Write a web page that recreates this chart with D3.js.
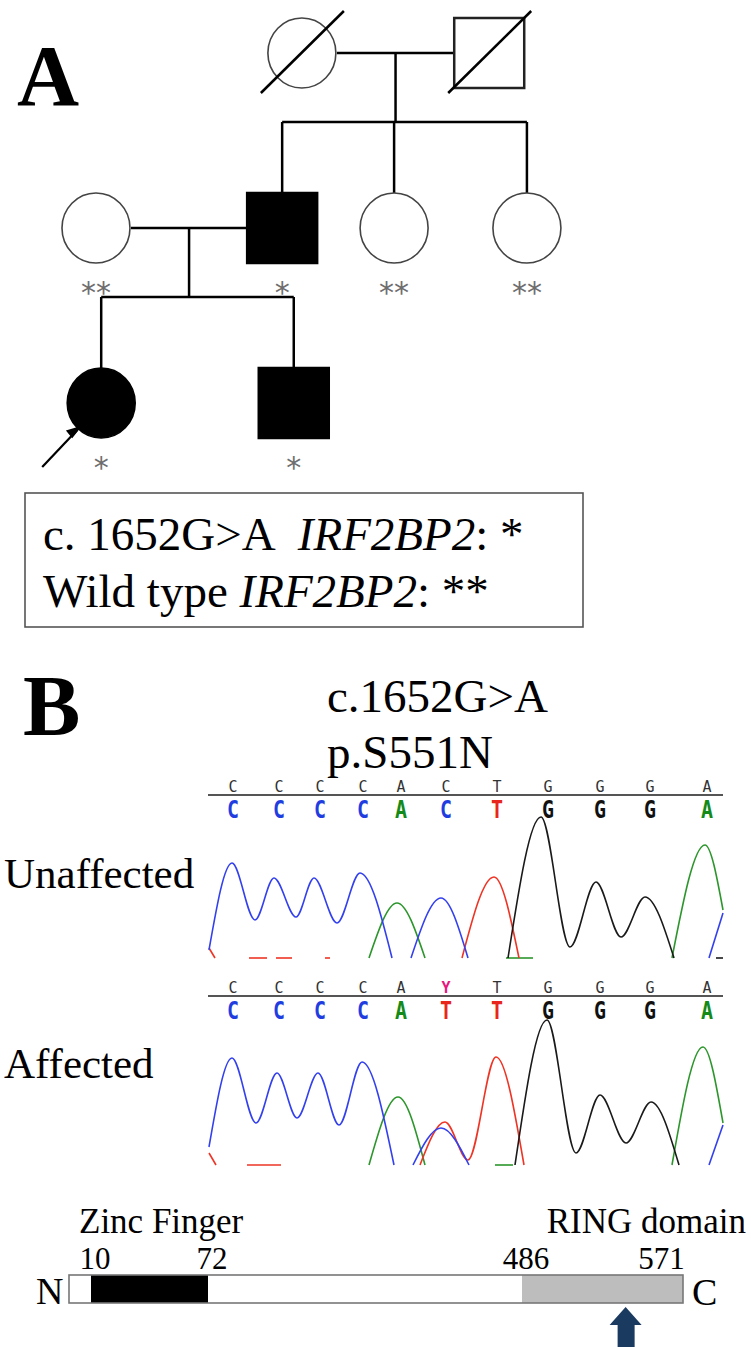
<!DOCTYPE html>
<html>
<head>
<meta charset="utf-8">
<script src="https://cdn.jsdelivr.net/npm/d3@7"></script>
<style>
  html, body { margin: 0; padding: 0; background: #fff; }
  svg { display: block; }
  text { font-family: "Liberation Serif", "Times New Roman", serif; }
  text.mono { font-family: "DejaVu Sans Mono", monospace; }
  text.geno { font-family: "DejaVu Sans", sans-serif; }
</style>
</head>
<body>
<svg id="chart" width="751" height="1347"></svg>
<script>

/****** Data ******/

// Pedigree: position in pedigree units (0-100), generation I-III
var pedIds      = ["I-1", "I-2", "II-1", "II-2", "II-3", "II-4", "III-1", "III-2"];
var pedGen      = [1, 1, 2, 2, 2, 2, 3, 3];
var pedPos      = [48.6, 80.9, 13.1, 45.2, 64.5, 87.4, 14.0, 47.2];
var pedSex      = ["F", "M", "F", "M", "F", "F", "F", "M"];
var pedAffected = [false, false, false, true, false, false, true, true];
var pedDeceased = [true, true, false, false, false, false, false, false];
var pedGeno     = ["", "", "**", "*", "**", "**", "*", "*"];
var proband     = "III-1";
var couples     = [["I-1", "I-2"], ["II-1", "II-2"]];
var offspring   = [["II-2", "II-3", "II-4"], ["III-1", "III-2"]];

// Sequencing: base calls and their scan positions
var basePos        = [24, 70, 111, 154, 192, 237, 288, 339, 391, 441, 498];
var refUnaffected  = ["C", "C", "C", "C", "A", "C", "T", "G", "G", "G", "A"];
var callUnaffected = ["C", "C", "C", "C", "A", "C", "T", "G", "G", "G", "A"];
var refAffected    = ["C", "C", "C", "C", "A", "Y", "T", "G", "G", "G", "A"];
var callAffected   = ["C", "C", "C", "C", "A", "T", "T", "G", "G", "G", "A"];

// Trace readings [scan, signal], one list per drawn stretch
var unaffectedC = [
  [[0, 8], [23, 95], [46, 38], [65, 80], [87, 41], [105, 80], [128, 35], [151, 85], [183, 0]],
  [[202, 0], [232, 60], [259, 0]],
  [[500, 0], [514, 45]]
];
var unaffectedA = [
  [[160, 0], [188, 55], [216, 0]],
  [[297, 0], [324, 0]],
  [[463, 0], [496, 113], [514, 48]]
];
var unaffectedT = [
  [[0, 10], [6, 0]],
  [[40, 0], [58, 0]], [[67, 0], [83, 0]], [[116, 0], [121, 0]],
  [[253, 0], [285, 81], [310, 0]]
];
var unaffectedG = [
  [[299, 0], [332, 141], [361, 11], [387, 76], [412, 21], [436, 61], [465, 0]],
  [[507, 0], [514, 0]]
];

var affectedC = [
  [[0, 18], [23, 107], [47, 42], [68, 92], [88, 47], [109, 92], [130, 40], [153, 103], [185, 0]],
  [[204, 0], [232, 37], [260, 0]],
  [[500, 0], [514, 40]]
];
var affectedA = [
  [[160, 0], [189, 68], [216, 0]],
  [[286, 0], [304, 0]],
  [[463, 0], [494, 118], [514, 42]]
];
var affectedT = [
  [[0, 12], [7, 0]],
  [[38, 0], [72, 0]],
  [[211, 0], [236, 43], [259, 5], [287, 108], [315, 0]]
];
var affectedG = [
  [[306, 0], [338, 145], [367, 12], [391, 70], [417, 22], [442, 63], [470, 0]]
];

// Protein
var proteinLength = 587;
var domainNames   = ["Zinc Finger", "RING domain"];
var domainStart   = [10, 486];
var domainEnd     = [72, 571];
var mutationSite  = 551;

/****** Styles ******/

var baseColor  = {C: "#1f3de0", A: "#148a18", T: "#e8261c", G: "#111111", Y: "#e8167e"};
var traceColor = {C: "#3340ee", A: "#2c962c", T: "#ee3424", G: "#1a1a1a"};

var svg = d3.select("#chart");
svg.append("rect").attr("width", 751).attr("height", 1347).attr("fill", "#fff");

/****** Panel A: pedigree ******/

var people = pedIds.map(function (id, i) {
  return {id: id, gen: pedGen[i], pos: pedPos[i], sex: pedSex[i],
          affected: pedAffected[i], deceased: pedDeceased[i], geno: pedGeno[i]};
});
var byId = {};
people.forEach(function (p) { byId[p.id] = p; });

var pedX = d3.scaleLinear().domain([0, 100]).range([20, 600]);
var pedY = d3.scalePoint().domain([1, 2, 3]).range([53, 403]);
var sym = 70, half = sym / 2, sibGap = 71;

var ped = svg.append("g").attr("class", "pedigree");

svg.append("text").attr("x", 17).attr("y", 105)
   .attr("font-size", 86).attr("font-weight", "bold").text("A");

// marriage, descent and sibship lines
couples.forEach(function (c, i) {
  var a = byId[c[0]], b = byId[c[1]];
  var xa = pedX(a.pos), xb = pedX(b.pos), y = pedY(a.gen);
  var left = Math.min(xa, xb), right = Math.max(xa, xb);
  ped.append("line").attr("x1", left + half).attr("x2", right - half)
     .attr("y1", y).attr("y2", y).attr("stroke", "#000").attr("stroke-width", 2.5);

  var kids = offspring[i].map(function (k) { return byId[k]; });
  var mid = (left + right) / 2;
  var sibY = pedY(kids[0].gen) - half - sibGap;
  ped.append("line").attr("x1", mid).attr("x2", mid)
     .attr("y1", y).attr("y2", sibY).attr("stroke", "#000").attr("stroke-width", 2.5);
  var kx = kids.map(function (k) { return pedX(k.pos); });
  ped.append("line").attr("x1", d3.min(kx)).attr("x2", d3.max(kx))
     .attr("y1", sibY).attr("y2", sibY).attr("stroke", "#000").attr("stroke-width", 2.5);
  kids.forEach(function (k) {
    ped.append("line").attr("x1", pedX(k.pos)).attr("x2", pedX(k.pos))
       .attr("y1", sibY).attr("y2", pedY(k.gen) - half)
       .attr("stroke", "#000").attr("stroke-width", 2.5);
  });
});

// symbols
people.forEach(function (p) {
  var cx = pedX(p.pos), cy = pedY(p.gen);
  if (p.sex === "M") {
    ped.append("rect").attr("x", cx - half).attr("y", cy - half)
       .attr("width", sym).attr("height", sym)
       .attr("fill", p.affected ? "#000" : "#fff")
       .attr("stroke", p.affected ? "#000" : "#222").attr("stroke-width", 2.5);
  } else {
    ped.append("ellipse").attr("cx", cx).attr("cy", cy).attr("rx", half - 1).attr("ry", half)
       .attr("fill", p.affected ? "#000" : "#fff")
       .attr("stroke", p.affected ? "#000" : "#444").attr("stroke-width", 1.6);
  }
  if (p.deceased) {
    ped.append("line").attr("x1", cx - 41).attr("y1", cy + 40)
       .attr("x2", cx + 42).attr("y2", cy - 42)
       .attr("stroke", "#000").attr("stroke-width", 2.5);
  }
  if (p.geno) {
    ped.append("text").attr("class", "geno").attr("x", cx).attr("y", cy + 75)
       .attr("text-anchor", "middle").attr("font-size", 30)
       .attr("fill", "#6e6e6e")
       .text(p.geno);
  }
  if (p.id === proband) {
    ped.append("line").attr("x1", cx - 59).attr("y1", cy + 64)
       .attr("x2", cx - 24).attr("y2", cy + 27)
       .attr("stroke", "#000").attr("stroke-width", 2.2);
    ped.append("path")
       .attr("d", "M" + (cx - 21) + "," + (cy + 24) + " l-13,4 l5,6 z")
       .attr("fill", "#000").attr("stroke", "#000").attr("stroke-width", 1.5);
  }
});

// genotype legend
var legend = svg.append("g").attr("class", "legend");
legend.append("rect").attr("x", 25).attr("y", 493).attr("width", 558).attr("height", 134)
      .attr("fill", "none").attr("stroke", "#555").attr("stroke-width", 1.6);

var l1 = legend.append("text").attr("x", 43).attr("y", 550).attr("font-size", 47);
l1.append("tspan").text("c. 1652G>A");
l1.append("tspan").attr("dx", 22).attr("font-style", "italic").text("IRF2BP2");
l1.append("tspan").text(": *");

var l2 = legend.append("text").attr("x", 43).attr("y", 607).attr("font-size", 47);
l2.append("tspan").text("Wild type ");
l2.append("tspan").attr("font-style", "italic").text("IRF2BP2");
l2.append("tspan").text(": **");

/****** Panel B: chromatograms ******/

svg.append("text").attr("x", 23).attr("y", 735)
   .attr("font-size", 86).attr("font-weight", "bold").text("B");

svg.append("text").attr("x", 327).attr("y", 712).attr("font-size", 47).text("c.1652G>A");
svg.append("text").attr("x", 327).attr("y", 768).attr("font-size", 47).text("p.S551N");

var scanX = d3.scaleLinear().domain([0, 514]).range([209, 723]);

var panels = [
  {label: "Unaffected", labelY: 888, lineY: 795, baseline: 958,
   ref: refUnaffected, call: callUnaffected,
   traces: {C: unaffectedC, A: unaffectedA, T: unaffectedT, G: unaffectedG}},
  {label: "Affected", labelY: 1078, lineY: 996, baseline: 1165,
   ref: refAffected, call: callAffected,
   traces: {C: affectedC, A: affectedA, T: affectedT, G: affectedG}}
];

panels.forEach(function (pn) {
  var g = svg.append("g").attr("class", "trace-panel");
  var sig = d3.scaleLinear().domain([0, 150]).range([pn.baseline, pn.baseline - 150]);

  g.append("text").attr("x", 4).attr("y", pn.labelY).attr("font-size", 43).text(pn.label);

  g.append("line").attr("x1", scanX(0) - 1).attr("x2", scanX(514))
   .attr("y1", pn.lineY).attr("y2", pn.lineY)
   .attr("stroke", "#555").attr("stroke-width", 2.2);

  basePos.forEach(function (b, i) {
    g.append("text").attr("class", "mono").attr("x", scanX(b)).attr("y", pn.lineY - 3)
     .attr("text-anchor", "middle")
     .attr("font-size", 15).attr("fill", pn.ref[i] === "Y" ? baseColor.Y : "#333")
     .attr("font-weight", pn.ref[i] === "Y" ? "bold" : "normal")
     .text(pn.ref[i]);
    g.append("text").attr("class", "mono")
     .attr("transform", "translate(" + scanX(b) + "," + (pn.lineY + 23) + ") scale(0.8,1)")
     .attr("text-anchor", "middle")
     .attr("font-weight", "bold").attr("font-size", 25)
     .attr("fill", baseColor[pn.call[i]])
     .text(pn.call[i]);
  });

  var line = d3.line()
    .x(function (d) { return scanX(d[0]); })
    .y(function (d) { return sig(d[1]); })
    .curve(d3.curveMonotoneX);

  ["A", "T", "C", "G"].forEach(function (base) {
    pn.traces[base].forEach(function (seg) {
      g.append("path").attr("d", line(seg))
       .attr("fill", "none").attr("stroke", traceColor[base])
       .attr("stroke-width", 1.6).attr("stroke-linejoin", "round");
    });
  });
});

/****** Protein schematic ******/

var protX = d3.scaleLinear()
  .domain([1, domainStart[0], domainEnd[0], domainStart[1], proteinLength])
  .range([69, 91, 208, 522, 683]);
var barTop = 1275, barH = 28;
var prot = svg.append("g").attr("class", "protein");

prot.append("rect").attr("x", protX(1)).attr("y", barTop)
    .attr("width", protX(proteinLength) - protX(1)).attr("height", barH)
    .attr("fill", "#fff");
prot.append("rect").attr("x", protX(domainStart[0])).attr("y", barTop)
    .attr("width", protX(domainEnd[0]) - protX(domainStart[0])).attr("height", barH)
    .attr("fill", "#000");
prot.append("rect").attr("x", protX(domainStart[1])).attr("y", barTop)
    .attr("width", protX(proteinLength) - protX(domainStart[1])).attr("height", barH)
    .attr("fill", "#bdbdbd");
prot.append("rect").attr("x", protX(1)).attr("y", barTop)
    .attr("width", protX(proteinLength) - protX(1)).attr("height", barH)
    .attr("fill", "none").attr("stroke", "#777").attr("stroke-width", 1.6);

prot.append("text").attr("x", 79).attr("y", 1233).attr("font-size", 35).text(domainNames[0]);
prot.append("text").attr("x", 746).attr("y", 1233).attr("font-size", 35)
    .attr("text-anchor", "end").text(domainNames[1]);

[domainStart[0], domainEnd[0], domainStart[1], domainEnd[1]].forEach(function (v) {
  prot.append("text").attr("x", protX(v) + 4).attr("y", 1269)
      .attr("text-anchor", "middle").attr("font-size", 31).text(v);
});

prot.append("text").attr("x", 36).attr("y", 1304).attr("font-size", 38).text("N");
prot.append("text").attr("x", 692).attr("y", 1305).attr("font-size", 38).text("C");

var ax = protX(mutationSite);
prot.append("path")
    .attr("d", "M" + ax + ",1307 L" + (ax + 16) + ",1325 L" + (ax + 9) + ",1325 L" + (ax + 9) +
               ",1347 L" + (ax - 8) + ",1347 L" + (ax - 8) + ",1325 L" + (ax - 16) + ",1325 Z")
    .attr("fill", "#1b3a60");

</script>
</body>
</html>
